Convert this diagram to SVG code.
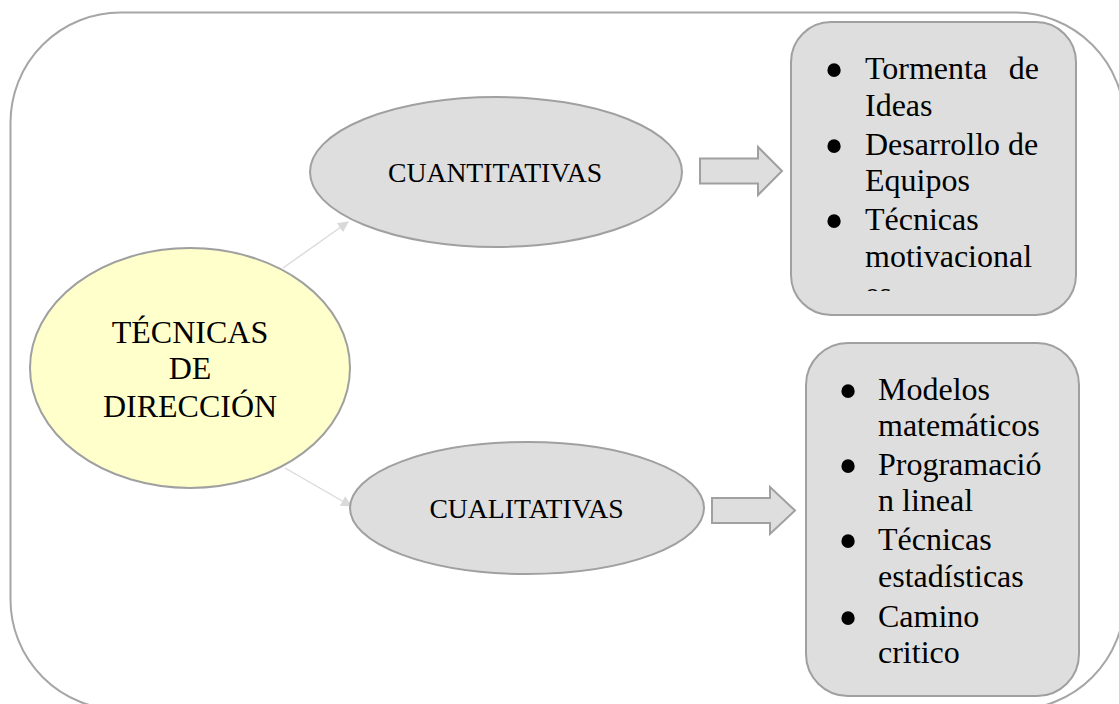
<svg xmlns="http://www.w3.org/2000/svg" width="1119" height="704" viewBox="0 0 1119 704">
<style>
.frame{fill:none;stroke:#a6a6a6;stroke-width:2}
.gray{fill:#dedede;stroke:#a0a0a0;stroke-width:2}
.yellow{fill:#ffffcc;stroke:#a0a0a0;stroke-width:2}
.blk{fill:#dedede;stroke:#a0a0a0;stroke-width:2}
.conn{stroke:#d9d9d9;stroke-width:1.3;fill:none}
text{font-family:"Liberation Serif","Times New Roman",serif;fill:#000}
.big{font-size:32px}
.mid{font-size:27.7px}
.li{font-size:32px}
.bul{font-size:56px;text-anchor:middle}
</style>
<defs>
<marker id="ah" viewBox="0 0 10 10" refX="9" refY="5" markerWidth="11" markerHeight="11" markerUnits="userSpaceOnUse" orient="auto">
<path d="M0,0 L10,5 L0,10 Z" fill="#d9d9d9"/>
</marker>
<clipPath id="clipTop"><rect x="790" y="20" width="290" height="271"/></clipPath>
</defs>
<rect id="frame" class="frame" x="10.5" y="12.5" width="1114" height="697" rx="110" ry="110"/>
<g id="connectors">
<line class="conn" x1="283" y1="268" x2="348" y2="222" marker-end="url(#ah)"/>
<line class="conn" x1="285" y1="468" x2="351" y2="506" marker-end="url(#ah)"/>
<path id="blockArrow1" class="blk" d="M700,158.5 L758,158.5 L758,147 L782,171 L758,195 L758,183.5 L700,183.5 Z"/>
<path id="blockArrow2" class="blk" d="M712,498 L770,498 L770,487 L795,510.5 L770,534 L770,523 L712,523 Z"/>
</g>
<g id="node-tecnicas">
<ellipse class="yellow" cx="190" cy="368" rx="160" ry="120"/>
<text class="big" x="190" y="343" text-anchor="middle">TÉCNICAS</text>
<text class="big" x="190" y="379" text-anchor="middle">DE</text>
<text class="big" x="190" y="417" text-anchor="middle">DIRECCIÓN</text>
</g>
<g id="node-cuantitativas">
<ellipse class="gray" cx="496" cy="172" rx="186" ry="75"/>
<text class="mid" x="495" y="182" text-anchor="middle">CUANTITATIVAS</text>
</g>
<g id="node-cualitativas">
<ellipse class="gray" cx="527" cy="508" rx="177" ry="66"/>
<text class="mid" x="526.5" y="518" text-anchor="middle">CUALITATIVAS</text>
</g>
<g id="node-list1">
<rect class="gray" x="791" y="22" width="285" height="293" rx="40" ry="40"/>
<g clip-path="url(#clipTop)">
<text class="bul" x="834" y="88.5">•</text>
<text class="li" x="865" y="79">Tormenta</text>
<text class="li" x="1039" y="79" text-anchor="end">de</text>
<text class="li" x="865" y="116">Ideas</text>
<text class="bul" x="834" y="164.5">•</text>
<text class="li" x="865" y="155">Desarrollo de</text>
<text class="li" x="865" y="191">Equipos</text>
<text class="bul" x="834" y="239.5">•</text>
<text class="li" x="865" y="230">Técnicas</text>
<text class="li" x="865" y="267">motivacional</text>
<text class="li" x="865" y="304">es</text>
</g>
</g>
<g id="node-list2">
<rect class="gray" x="806" y="343" width="273" height="353" rx="42" ry="42"/>
<text class="bul" x="848" y="409.5">•</text>
<text class="li" x="878" y="400">Modelos</text>
<text class="li" x="878" y="436">matemáticos</text>
<text class="bul" x="848" y="484.5">•</text>
<text class="li" x="878" y="475">Programació</text>
<text class="li" x="878" y="511">n lineal</text>
<text class="bul" x="848" y="559.5">•</text>
<text class="li" x="878" y="550">Técnicas</text>
<text class="li" x="878" y="587">estadísticas</text>
<text class="bul" x="848" y="636.5">•</text>
<text class="li" x="878" y="627">Camino</text>
<text class="li" x="878" y="663">critico</text>
</g>
</svg>
